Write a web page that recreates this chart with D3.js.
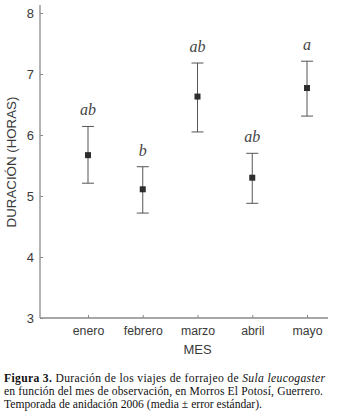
<!DOCTYPE html>
<html>
<head>
<meta charset="utf-8">
<script src="https://cdn.jsdelivr.net/npm/d3@7"></script>
<style>
  body { margin: 0; background: #fff; }
  svg { display: block; }
</style>
</head>
<body>
<div id="graph"></div>
<script>
const width = 340
const height = 417

const months = ['enero', 'febrero', 'marzo', 'abril', 'mayo']
const means = [5.67, 5.11, 6.63, 5.30, 6.77]
const upper = [6.14, 5.48, 7.18, 5.70, 7.21]
const lower = [5.21, 4.72, 6.05, 4.88, 6.31]
const letters = ['ab', 'b', 'ab', 'ab', 'a']
const yTicks = [3, 4, 5, 6, 7, 8]

const axisColor = '#8a8a8a'
const textColor = '#3a3a3a'
const sans = '"Liberation Sans", Arial, sans-serif'

const svg = d3.select('#graph')
  .append('svg')
  .attr('width', width)
  .attr('height', height)

const xScale = d3.scalePoint().domain(months).range([88, 307])
const yScale = d3.scaleLinear().domain([3, 8]).range([318, 13])

// y axis
const yAxis = svg.append('g')
  .attr('transform', 'translate(40,0)')
  .call(d3.axisLeft(yScale).tickValues(yTicks).tickFormat(d3.format('d'))
    .tickSize(-3).tickPadding(6).tickSizeOuter(0))
yAxis.select('.domain').remove()
yAxis.append('line')
  .attr('y1', 5).attr('y2', 318)
  .attr('stroke', axisColor).attr('stroke-width', 1.3)
yAxis.selectAll('.tick line').attr('stroke', axisColor)
yAxis.selectAll('.tick text')
  .attr('fill', textColor)
  .style('font', '13px ' + sans)

// x axis
const xAxis = svg.append('g')
  .attr('transform', 'translate(0,318)')
  .call(d3.axisBottom(xScale).tickSize(-3).tickPadding(8).tickSizeOuter(0))
xAxis.select('.domain').remove()
xAxis.append('line')
  .attr('x1', 40).attr('x2', 328)
  .attr('stroke', axisColor).attr('stroke-width', 1.3)
xAxis.selectAll('.tick line').attr('stroke', axisColor)
xAxis.selectAll('.tick text')
  .attr('fill', textColor)
  .style('font', '12.3px ' + sans)

// axis titles
svg.append('text')
  .attr('transform', 'translate(16,162) rotate(-90)')
  .attr('text-anchor', 'middle')
  .attr('fill', textColor)
  .style('font', '13.3px ' + sans)
  .text('DURACIÓN (HORAS)')

svg.append('text')
  .attr('x', xScale('marzo'))
  .attr('y', 354)
  .attr('text-anchor', 'middle')
  .attr('fill', textColor)
  .style('font', '13px ' + sans)
  .text('MES')

// error bars and points
const data = months.map((m, i) => ({m, mean: means[i], hi: upper[i], lo: lower[i], letter: letters[i]}))
const g = svg.append('g')
const cap = 6

g.selectAll('.err').data(data).join('line')
  .attr('x1', d => xScale(d.m)).attr('x2', d => xScale(d.m))
  .attr('y1', d => yScale(d.hi)).attr('y2', d => yScale(d.lo))
  .attr('stroke', '#555').attr('stroke-width', 1)

g.selectAll('.capHi').data(data).join('line')
  .attr('x1', d => xScale(d.m) - cap).attr('x2', d => xScale(d.m) + cap)
  .attr('y1', d => yScale(d.hi)).attr('y2', d => yScale(d.hi))
  .attr('stroke', '#555').attr('stroke-width', 1)

g.selectAll('.capLo').data(data).join('line')
  .attr('x1', d => xScale(d.m) - cap).attr('x2', d => xScale(d.m) + cap)
  .attr('y1', d => yScale(d.lo)).attr('y2', d => yScale(d.lo))
  .attr('stroke', '#555').attr('stroke-width', 1)

g.selectAll('rect').data(data).join('rect')
  .attr('x', d => xScale(d.m) - 3)
  .attr('y', d => yScale(d.mean) - 3)
  .attr('width', 6).attr('height', 6)
  .attr('fill', '#2e2e2e')

g.selectAll('.letter').data(data).join('text')
  .attr('x', d => xScale(d.m))
  .attr('y', d => yScale(d.hi) - 11)
  .attr('text-anchor', 'middle')
  .attr('fill', '#444')
  .style('font', 'italic 16px "Liberation Serif", "DejaVu Serif", serif')
  .text(d => d.letter)

// caption
const caption = svg.append('text')
  .attr('fill', '#111')
  .style('font', '11.6px "Liberation Serif", "Times New Roman", serif')
const l1 = caption.append('tspan').attr('x', 4).attr('y', 382)
  .attr('textLength', 321).attr('lengthAdjust', 'spacing')
l1.append('tspan').attr('font-weight', 'bold').text('Figura 3.')
l1.append('tspan').text(' Duración de los viajes de forrajeo de ')
l1.append('tspan').attr('font-style', 'italic').text('Sula leucogaster')
caption.append('tspan').attr('x', 4).attr('y', 395)
  .attr('textLength', 319).attr('lengthAdjust', 'spacing')
  .text('en función del mes de observación, en Morros El Potosí, Guerrero.')
caption.append('tspan').attr('x', 4).attr('y', 408)
  .attr('textLength', 258).attr('lengthAdjust', 'spacing')
  .text('Temporada de anidación 2006 (media ± error estándar).')
</script>
</body>
</html>
